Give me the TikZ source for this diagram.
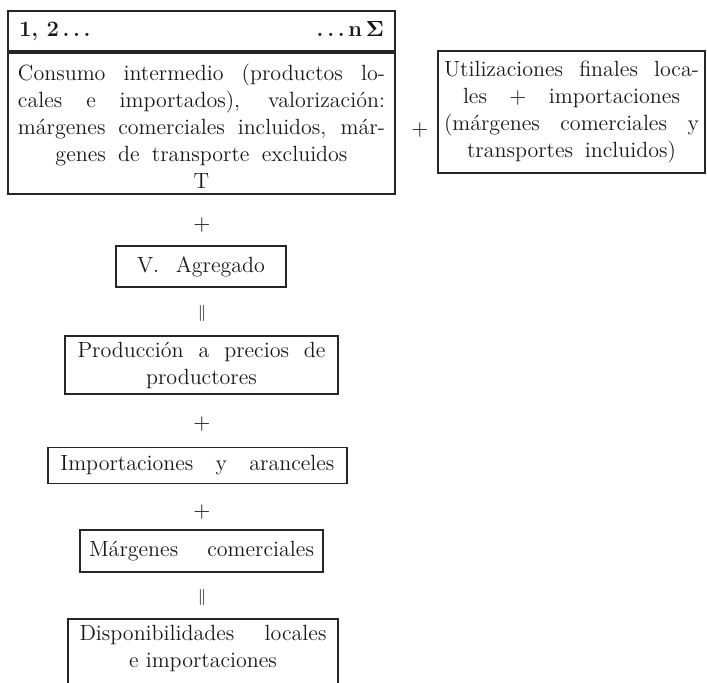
\documentclass[tikz,border=0pt]{standalone}
\usepackage[no-math]{fontspec}
\usepackage{amsmath}
\usetikzlibrary{positioning}

\newcommand{\fullline}[2]{\makebox[#1][s]{#2}}

\tikzset{
  cuadro/.style={draw=black!85, line width=0.9pt, inner xsep=0pt, inner ysep=0pt,
    align=center, text=black!90, font=\fontsize{11}{13.5}\selectfont},
  signo/.style={inner sep=0pt, text=black!90, font=\fontsize{11}{13.5}\selectfont},
}

\begin{document}
\begin{tikzpicture}[x=0.5pt,y=-0.5pt]
  \useasboundingbox (0,0) rectangle (707,682);
  \clip (0,0) rectangle (707,682);

  % cuadro de consumo intermedio
  \node[cuadro, anchor=south, minimum width=193.5pt, minimum height=20pt] (hdr) at (201.5,52)
    {\makebox[182.5pt]{\bfseries 1, 2\,.\,.\,.\hfill.\,.\,.\,n\,$\mathbf{\Sigma}$}};
  \node[cuadro, below=0pt of hdr, minimum width=193.5pt, text height=68pt, text depth=2.5pt] (ci)
    {\fullline{183.5pt}{Consumo intermedio (productos lo-}\\
     \fullline{183.5pt}{cales e importados), valorización:}\\
     \fullline{183.5pt}{márgenes comerciales incluidos, már-}\\
     \fullline{146pt}{genes de transporte excluidos}\\
     T};

  \node[signo] (p0) at (420,130) {$+$};
  \node[cuadro, minimum width=133.5pt, minimum height=61pt] (uf) at (571.5,112)
    {\fullline{127.5pt}{Utilizaciones finales loca-}\\
     \fullline{108.5pt}{les $+$ importaciones}\\
     \fullline{127.5pt}{(márgenes comerciales y}\\
     \fullline{104.5pt}{transportes incluidos)}};

  % columna central
  \node[signo] (p1) at (202,225) {$+$};
  \node[cuadro, minimum width=85pt, minimum height=20.5pt] (va) at (201,266.5)
    {\fullline{64pt}{V. Agregado}};
  \node[signo] (eq1) at (202,313) {\footnotesize$\Vert$};
  \node[cuadro, minimum width=136.5pt, minimum height=29pt] (pr) at (201.5,365)
    {\fullline{124pt}{Producción a precios de}\\ productores};
  \node[signo] (p2) at (202,424) {$+$};
  \node[cuadro, minimum width=149.5pt, minimum height=18pt] (im) at (197.5,465.5)
    {\fullline{137pt}{Importaciones y aranceles}};
  \node[signo] (p3) at (202,512) {$+$};
  \node[cuadro, minimum width=121.5pt, minimum height=21pt] (mc) at (201.5,551)
    {\fullline{112.5pt}{Márgenes comerciales}};
  \node[signo] (eq2) at (202,597) {\footnotesize$\Vert$};
  \node[cuadro, anchor=north, minimum width=135pt, text height=24.5pt, text depth=30pt] (di) at (203,618)
    {\fullline{123.5pt}{Disponibilidades locales}\\ e importaciones};
\end{tikzpicture}
\end{document}
